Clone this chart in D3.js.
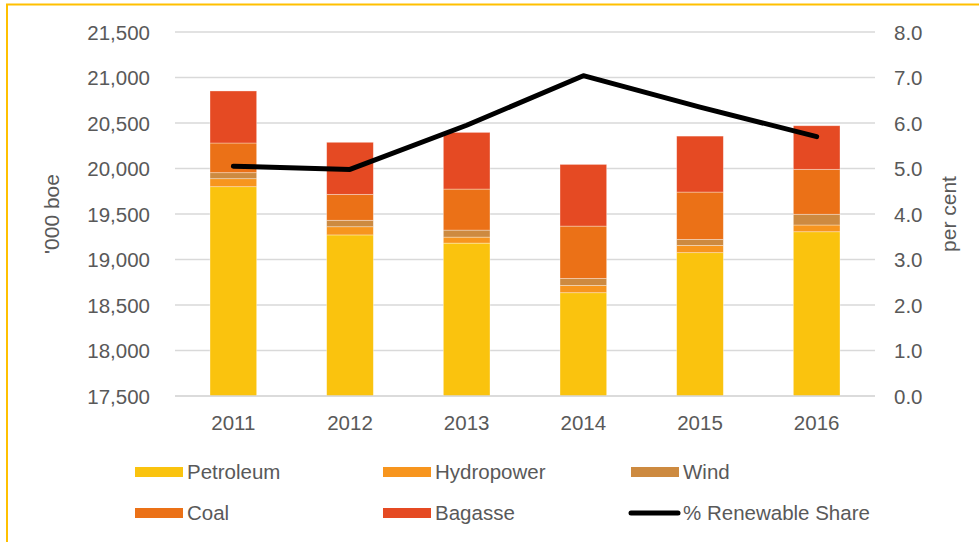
<!DOCTYPE html>
<html>
<head>
<meta charset="utf-8">
<script src="https://cdn.jsdelivr.net/npm/d3@7"></script>
<style>
  html, body { margin: 0; padding: 0; background: #fff; }
  svg { display: block; font-family: "Liberation Sans", Arial, sans-serif; }
</style>
</head>
<body>
<svg id="chart" width="979" height="542"></svg>
<script>
const years = ["2011", "2012", "2013", "2014", "2015", "2016"];
const petroleum = [19800, 19270, 19180, 18635, 19075, 19305];
const hydropower = [88, 90, 66, 80, 80, 74];
const wind = [66, 71, 77, 77, 66, 118];
const coal = [326, 285, 451, 575, 520, 494];
const bagasse = [572, 572, 623, 678, 615, 479];
const renewableShare = [5.05, 4.98, 5.95, 7.04, 6.35, 5.70];
const leftTicks = [17500, 18000, 18500, 19000, 19500, 20000, 20500, 21000, 21500];
const rightTicks = [0, 1, 2, 3, 4, 5, 6, 7, 8];

const seriesNames = ["Petroleum", "Hydropower", "Wind", "Coal", "Bagasse"];
const seriesColors = ["#FAC30E", "#F7951E", "#CD8A40", "#EB7117", "#E54A23"];
const seriesValues = [petroleum, hydropower, wind, coal, bagasse];

(function () {
const rows = years.map((yr, i) => {
  const r = { year: yr };
  seriesNames.forEach((n, k) => r[n] = seriesValues[k][i]);
  return r;
});
const stacked = d3.stack().keys(seriesNames)(rows);

const svg = d3.select("#chart");
const pLeft = 175, pRight = 875, pTop = 32, pBottom = 396;
const textColor = "#595959";

// frame
svg.append("line").attr("x1", 6).attr("x2", 979).attr("y1", 4.5).attr("y2", 4.5)
  .attr("stroke", "#FFC000").attr("stroke-width", 2);
svg.append("line").attr("x1", 7).attr("x2", 7).attr("y1", 4).attr("y2", 542)
  .attr("stroke", "#FFC000").attr("stroke-width", 2);

const x = d3.scaleBand().domain(years).range([pLeft, pRight]).paddingInner(0.6).paddingOuter(0.3);
const y = d3.scaleLinear().domain([17500, 21500]).range([pBottom, pTop]);
const y2 = d3.scaleLinear().domain([0, 8]).range([pBottom, pTop]);

// gridlines
svg.append("g").selectAll("line").data(leftTicks).join("line")
  .attr("x1", pLeft).attr("x2", pRight)
  .attr("y1", d => y(d)).attr("y2", d => y(d))
  .attr("stroke", "#D9D9D9").attr("stroke-width", 1.5);

// left axis
const yAxis = d3.axisLeft(y).tickValues(leftTicks).tickFormat(d3.format(",")).tickSize(0).tickPadding(25);
const ga = svg.append("g").attr("transform", `translate(${pLeft},0)`).call(yAxis);
ga.select(".domain").remove();
ga.selectAll("text").attr("fill", textColor).attr("font-size", 20.5).attr("dy", "0.35em");

// right axis
const y2Axis = d3.axisRight(y2).tickValues(rightTicks).tickFormat(d3.format(".1f")).tickSize(0).tickPadding(19);
const gb = svg.append("g").attr("transform", `translate(${pRight},0)`).call(y2Axis);
gb.select(".domain").remove();
gb.selectAll("text").attr("fill", textColor).attr("font-size", 20.5).attr("dy", "0.35em");

// x axis
const xAxis = d3.axisBottom(x).tickSize(0).tickPadding(19);
const gx = svg.append("g").attr("transform", `translate(0,${pBottom})`).call(xAxis);
gx.select(".domain").remove();
gx.selectAll("text").attr("fill", textColor).attr("font-size", 20.5);

// bars (clip to the plot area since stack starts at 0)
svg.append("defs").append("clipPath").attr("id", "plotclip")
  .append("rect").attr("x", pLeft).attr("y", 0).attr("width", pRight - pLeft).attr("height", pBottom);
const barsG = svg.append("g").attr("clip-path", "url(#plotclip)");
stacked.forEach((s, k) => {
  barsG.append("g").selectAll("rect").data(s).join("rect")
    .attr("x", d => x(d.data.year))
    .attr("width", x.bandwidth())
    .attr("y", d => y(d[1]))
    .attr("height", d => y(d[0]) - y(d[1]))
    .attr("fill", seriesColors[k])
    .attr("stroke", "rgba(255,255,255,0.45)")
    .attr("stroke-width", 0.75);
});

// baseline
svg.append("line").attr("x1", pLeft).attr("x2", pRight).attr("y1", pBottom).attr("y2", pBottom)
  .attr("stroke", "#D9D9D9").attr("stroke-width", 1.5);

// line
const line = d3.line().x((d, i) => x(years[i]) + x.bandwidth() / 2).y(d => y2(d));
svg.append("path").datum(renewableShare)
  .attr("d", line).attr("fill", "none").attr("stroke", "#000")
  .attr("stroke-width", 5).attr("stroke-linecap", "round").attr("stroke-linejoin", "round");

// axis titles
svg.append("text").attr("transform", "translate(52,214) rotate(-90)")
  .attr("text-anchor", "middle").attr("dy", "0.35em")
  .attr("fill", textColor).attr("font-size", 21).text("'000 boe");
svg.append("text").attr("transform", "translate(949,214) rotate(-90)")
  .attr("text-anchor", "middle").attr("dy", "0.35em")
  .attr("fill", textColor).attr("font-size", 21).text("per cent");

// legend
const legendItems = [
  { name: "Petroleum", color: seriesColors[0], x: 135, y: 472, type: "rect" },
  { name: "Hydropower", color: seriesColors[1], x: 383, y: 472, type: "rect" },
  { name: "Wind", color: seriesColors[2], x: 631, y: 472, type: "rect" },
  { name: "Coal", color: seriesColors[3], x: 135, y: 513, type: "rect" },
  { name: "Bagasse", color: seriesColors[4], x: 383, y: 513, type: "rect" },
  { name: "% Renewable Share", color: "#000", x: 631, y: 513, type: "line" }
];
const lg = svg.append("g");
legendItems.forEach(it => {
  if (it.type === "rect") {
    lg.append("rect").attr("x", it.x).attr("y", it.y - 5).attr("width", 48).attr("height", 10)
      .attr("fill", it.color);
  } else {
    lg.append("line").attr("x1", it.x).attr("x2", it.x + 47).attr("y1", it.y).attr("y2", it.y)
      .attr("stroke", it.color).attr("stroke-width", 5).attr("stroke-linecap", "round");
  }
  lg.append("text").attr("x", it.x + 52).attr("y", it.y).attr("dy", "0.35em")
    .attr("fill", textColor).attr("font-size", 20.5).text(it.name);
});
})();
</script>
</body>
</html>
